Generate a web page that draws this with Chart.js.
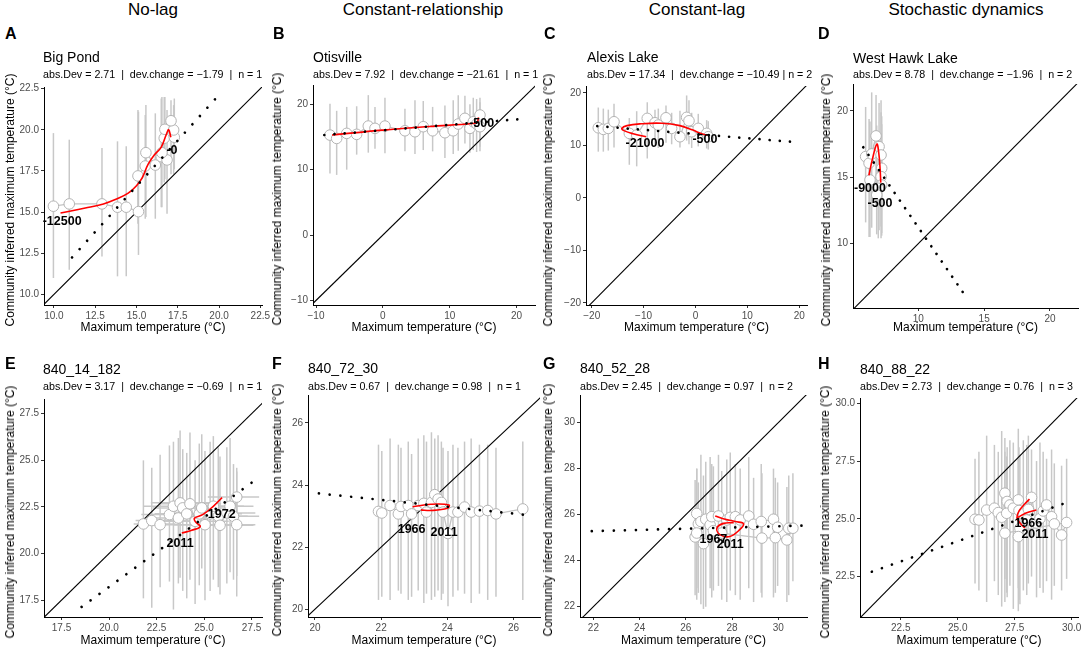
<!DOCTYPE html>
<html><head><meta charset="utf-8">
<script src="https://cdn.jsdelivr.net/npm/chart.js@4.4.0/dist/chart.umd.min.js"></script>
<style>
html,body{margin:0;padding:0;background:#fff;}
body{width:1084px;height:651px;position:relative;overflow:hidden;font-family:"Liberation Sans",Arial,Helvetica,sans-serif;}
.t{position:absolute;white-space:pre;line-height:1;color:#000;}
canvas{position:absolute;}
</style></head><body>
<script>
// ---------- DATA ----------
// points: [x, y, yLow, yHigh, (xLow, xHigh)]
// Panel A - Big Pond
const A_xRange = [9.4, 22.6], A_yRange = [9.36, 22.6];
const A_ticks = [10, 12.5, 15, 17.5, 20, 22.5];
const A_pts = [[9.97,15.36,11.0,19.8],[10.93,15.5,11.5,19.4],[12.91,15.5,12.3,18.9],[13.85,15.3,11.1,19.3],[14.38,15.3,11.1,19.0],[15.12,15.03,12.4,21.1],[15.09,17.2,14.3,21.2],[15.53,17.8,14.6,20.9],[15.57,18.61,14.7,21.5],[16.14,17.86,14.6,21.0],[16.5,18.37,15.3,21.9],[16.85,18.17,14.9,21.2],[16.54,18.61,15.3,22.0],[16.68,19.49,16.8,22.0],[17.29,19.55,17.6,21.9],[16.72,20.03,17.0,22.0],[17.25,19.99,17.3,21.5],[17.09,20.55,17.3,21.8]];
const A_red = [[[10.4,14.95],[11.9,15.25],[13.0,15.5],[13.8,15.8],[14.5,16.15],[15.0,16.6],[15.35,17.1],[15.7,17.9],[16.1,18.5],[16.5,18.95],[16.8,19.7],[16.95,20.0],[17.08,19.55]]];
const A_trend = [[11.1,12.25],[19.75,21.85]];
const A_labels = [["-12500",10.5,14.4],["-0",17.15,18.75]];

// Panel B - Otisville
const B_xRange = [-10.45, 22.75], B_yRange = [-10.7, 22.95];
const B_ticks = [-10, 0, 10, 20];
const B_pts = [[-7.91,15.29,9.4,20.1],[-6.91,14.78,9.2,19.0],[-5.41,15.55,10.0,19.6],[-3.92,15.4,12.3,19.7],[-2.18,16.67,12.6,21.4],[-1.18,16.32,13.2,19.6],[0.31,16.67,12.5,21.0],[3.3,15.95,12.8,19.3],[4.8,15.8,12.4,20.6],[6.04,16.57,13.0,20.5],[7.44,15.95,12.8,19.6],[9.28,15.65,11.8,19.8],[10.52,15.95,12.4,20.6],[11.27,16.98,12.9,21.4],[12.27,17.85,14.0,21.3],[13.02,16.32,12.6,20.0],[13.52,17.33,13.0,21.0],[14.02,16.98,12.7,20.8],[14.52,18.36,13.5,21.0],[14.52,16.57,12.8,20.3]];
const B_red = [[[-7.6,15.3],[0,16.05],[7,16.6],[13.4,17.05],[14.1,17.25],[14.3,18.0]]];
const B_trend = [[-8.76,15.3],[20.1,17.7]];
const B_labels = [["-500",14.77,17.08]];

// Panel C - Alexis Lake
const C_xRange = [-21.1, 21.5], C_yRange = [-20.4, 21.3];
const C_ticks = [-20, -10, 0, 10, 20];
const C_pts = [[-18.73,13.35,8.8,17.2],[-17.76,13.04,8.8,17.0],[-16.8,13.23,9.0,16.8],[-15.7,14.49,9.6,17.9],[-12.75,12.28,6.3,15.2],[-11.33,11.96,6.0,16.5],[-9.29,15.13,7.5,18.2],[-7.8,14.3,9.8,16.8],[-7.16,13.87,9.5,17.0],[-5.68,15.25,10.5,17.6],[-4.59,13.23,10.2,16.2],[-2.99,11.64,9.6,16.6],[-1.7,15.33,10.9,19.5],[-1.25,14.68,10.2,18.6],[-0.73,12.59,9.5,16.2],[0.54,13.23,9.8,16.0],[2.16,12.28,9.4,14.8],[2.47,11.64,9.2,14.6]];
const C_red = [[[-9.5,11.65],[-12,12.2],[-13.8,12.8],[-14.2,13.2],[-13.2,13.75],[-10.5,14.1],[-6.5,14.2],[-3,13.75],[-0.5,12.9],[1.2,12.2],[2.3,11.9]]];
const C_trend = [[-18.92,13.67],[18.21,10.7]];
const C_labels = [["-21000",-9.73,10.38],["-500",1.83,11.02]];

// Panel D - West Hawk Lake
const D_xRange = [5.04, 22.13], D_yRange = [5.15, 22.03];
const D_ticks = [10, 15, 20];
const D_pts = [[6.0,16.56,11.6,20.3],[6.26,16.06,10.5,19.4],[6.46,16.76,11.2,21.4],[6.79,18.12,12.8,21.2],[7.02,17.31,11.0,20.6],[7.17,16.68,10.4,19.9],[7.22,15.68,10.8,19.6],[7.17,15.05,11.3,20.8],[6.33,14.8,10.5,19.2],[7.22,14.42,10.6,19.0],[6.96,14.17,10.4,18.4],[6.84,13.67,10.7,18.9]];
const D_red = [[[6.25,15.15],[6.5,16.3],[6.85,17.5],[7.0,16.8],[7.1,15.6],[7.15,14.6]]];
const D_trend = [[5.82,17.26],[13.37,6.36]];
const D_labels = [["-9000",6.33,14.12],["-500",7.09,12.99]];

// Panel E - 840_14_182
const E_xRange = [16.58, 28.05], E_yRange = [16.6, 28.29];
const E_ticks = [17.5, 20, 22.5, 25, 27.5];
const E_pts = [[21.81,21.59,17.6,25.0,21.3,23.5],[22.25,21.77,17.1,24.6,21.4,24.2],[22.69,21.55,18.2,25.3,21.6,24.4],[23.18,22.09,18.5,25.8,21.7,24.9],[23.39,22.54,17.0,26.0,21.8,25.3],[23.65,21.91,18.4,26.2,22.0,25.4],[23.74,22.72,18.7,26.6,22.2,25.5],[23.88,22.45,18.0,25.6,22.3,25.6],[24.09,22.13,17.6,25.4,22.4,25.9],[24.26,22.67,18.6,26.5,22.6,25.9],[24.53,21.73,17.3,25.0,22.9,26.3],[24.75,22.13,18.3,25.9,23.1,26.5],[24.88,22.45,19.2,26.4,23.3,26.4],[25.05,21.55,17.5,25.5,23.4,26.8],[25.32,22.13,18.0,26.0,23.7,27.0],[25.49,22.54,18.6,26.3,23.9,27.1],[25.75,22.0,18.2,25.7,24.2,27.3],[25.84,21.52,17.8,25.2,24.2,27.6],[26.2,22.18,18.4,25.7,24.6,27.7],[26.37,22.54,19.0,26.2,24.8,27.6],[26.55,22.0,18.6,24.8,25.0,27.9],[26.72,23.03,18.8,24.4,25.2,27.9],[26.72,21.55,17.7,24.6,25.1,27.7]];
const E_red = [[[23.83,21.1],[24.35,21.25],[24.8,21.45],[24.55,21.7],[24.5,21.9],[24.95,22.1],[25.5,22.55],[25.95,23.0]]];
const E_trend = [[18.56,17.14],[27.5,23.8]];
const E_labels = [["1972",25.93,22.1],["2011",23.74,20.56]];

// Panel F - 840_72_30
const F_xRange = [19.79, 26.8], F_yRange = [19.75, 26.9];
const F_ticks = [20, 22, 24, 26];
const F_pts = [[21.92,23.15,20.3,25.3],[22.02,23.10,20.4,25.1],[22.27,23.34,20.3,25.5],[22.52,23.07,20.6,25.3],[22.6,23.31,20.5,25.2],[22.82,23.34,20.3,25.4],[22.92,23.07,20.4,25.0],[23.12,23.34,20.6,25.5],[23.29,23.41,20.2,25.6],[23.37,23.13,20.5,25.4],[23.52,23.44,20.3,25.7],[23.62,23.69,20.4,25.5],[23.72,23.55,20.6,25.6],[23.82,23.44,20.3,25.4],[23.87,23.13,20.5,25.2],[24.02,22.44,20.1,25.1],[24.17,23.13,20.4,25.3],[24.32,23.13,20.6,25.2],[24.52,23.29,20.5,25.4],[24.72,23.13,20.2,25.5],[24.97,23.16,20.5,25.3],[25.22,23.18,20.3,25.3],[25.47,23.07,20.4,25.2],[26.28,23.23,20.3,25.4]];
const F_red = [[[22.95,23.3],[23.5,23.38],[24.05,23.36],[24.0,23.25],[23.5,23.18],[23.2,23.2]]];
const F_trend = [[20.12,23.73],[26.28,23.05]];
const F_labels = [["1966",22.92,22.58],["2011",23.9,22.48]];

// Panel G - 840_52_28
const G_xRange = [21.42, 31.24], G_yRange = [21.55, 31.2];
const G_ticks = [22, 24, 26, 28, 30];
const G_pts = [[26.47,26.05,22.3,28.0],[26.54,25.6,22.6,27.4],[26.65,25.7,22.1,28.6],[26.86,25.8,22.0,28.3],[27.05,25.55,22.8,28.5],[27.12,25.91,22.4,28.2],[27.41,25.94,22.9,28.6],[27.77,25.77,22.2,28.4],[27.92,25.88,22.7,28.7],[28.14,25.91,22.5,28.2],[28.35,25.77,22.3,28.0],[28.72,25.94,22.8,28.5],[28.93,25.58,22.2,27.6],[29.26,25.7,22.6,28.2],[29.79,25.8,22.4,28.0],[29.97,25.45,22.9,27.4],[30.45,25.41,22.5,27.7],[30.63,25.41,23.1,27.8],[30.37,24.9,22.2,27.2],[29.87,25.0,22.6,27.6],[29.29,24.98,22.4,27.8],[27.55,25.2,22.3,27.9],[27.19,25.3,22.7,28.1],[26.76,24.74,21.9,27.7],[26.4,25.03,22.5,27.5],[26.47,25.2,22.8,28.0]];
const G_red = [[[27.27,25.94],[27.7,25.8],[28.14,25.7],[28.5,25.6],[28.29,25.31],[27.9,25.05],[27.49,25.12],[27.34,25.41],[27.63,25.62],[28.07,25.65]]];
const G_trend = [[21.93,25.28],[31.0,25.52]];
const G_labels = [["1967",27.19,24.9],["2011",27.92,24.68]];

// Panel H - 840_88_22
const H_xRange = [20.71, 30.28], H_yRange = [20.75, 30.23];
const H_ticks = [22.5, 25, 27.5, 30];
const H_pts = [[25.76,24.98,22.2,27.6],[25.93,24.95,21.9,27.9],[26.27,25.38,21.4,28.6],[26.61,25.46,22.3,28.2],[26.78,25.27,21.7,27.9],[26.93,25.07,21.2,28.8],[27.07,26.11,22.4,28.5],[27.17,25.75,21.6,28.1],[27.29,25.6,22.1,28.4],[27.15,25.24,21.8,27.7],[27.44,25.46,21.1,28.3],[27.66,25.82,22.0,28.9],[27.69,25.36,21.5,28.1],[27.88,25.21,21.9,28.4],[27.73,24.59,21.3,27.8],[27.66,24.23,21.0,27.6],[28.03,24.95,21.7,28.2],[28.1,25.41,22.2,28.6],[28.24,25.93,22.5,28.0],[28.46,24.82,21.6,27.5],[28.61,25.01,22.0,28.3],[28.75,25.34,21.8,27.9],[28.9,25.6,22.3,27.6],[29.12,25.09,21.5,28.0],[29.24,24.78,22.1,27.4],[29.56,24.3,21.9,27.3],[29.78,24.84,22.4,27.6],[27.07,24.38,21.4,27.9]];
const H_red = [[[28.15,25.85],[27.95,25.65],[27.7,25.35],[27.6,25.05],[27.75,24.8],[27.95,24.6]],[[27.62,25.05],[28.0,25.25],[28.45,25.38]]];
const H_trend = [[21.23,22.71],[29.6,25.64]];
const H_labels = [["1966",28.1,24.8],["2011",28.39,24.3]];

const columnTitles = ["No-lag", "Constant-relationship", "Constant-lag", "Stochastic dynamics"];
const siteNames = ["Big Pond","Otisville","Alexis Lake","West Hawk Lake","840_14_182","840_72_30","840_52_28","840_88_22"];
const statLines = [
 "abs.Dev = 2.71  |  dev.change = \u22121.79  |  n = 1",
 "abs.Dev = 7.92  |  dev.change = \u221221.61  |  n = 1",
 "abs.Dev = 17.34  |  dev.change = \u221210.49 | n = 2",
 "abs.Dev = 8.78  |  dev.change = \u22121.96  |  n = 2",
 "abs.Dev = 3.17  |  dev.change = \u22120.69  |  n = 1",
 "abs.Dev = 0.67  |  dev.change = 0.98  |  n = 1",
 "abs.Dev = 2.45  |  dev.change = 0.97  |  n = 2",
 "abs.Dev = 2.73  |  dev.change = 0.76  |  n = 3"];
const xTitle = "Maximum temperature (\u00B0C)";
const yTitle = "Community inferred maximum temperature (\u00B0C)";

// ---------- LAYOUT ----------
const FONT = '"Liberation Sans", Arial, Helvetica, sans-serif';
const PLOT = {A:[44,87,262,305],B:[313,85,535,305],C:[586,86,807,305],D:[853,84,1078,308],
              E:[44,399,262,617],F:[308,395,540,617],G:[580,395,807,617],H:[860,398,1078,617]};
const LETTER = {A:[5,40],B:[273,40],C:[544,40],D:[818,40],E:[5,370],F:[272,370],G:[543,370],H:[818,370]};
const TITLEPOS = {A:[43,62],B:[313,62],C:[587,62],D:[853,63],E:[43,374],F:[308,373],G:[580,373],H:[860,374]};
const STATBASE = {A:78,B:78,C:78,D:78,E:390,F:390,G:390,H:390};
const YTX = {A:10,B:277,C:548,D:826,E:10,F:277,G:548,H:825};
const COLX = [153,423,697,966];
const ML=42, MT=12, MR=20, MB=24, NDOT=20;

function txt(s, x, base, size, o) {
  o = o || {};
  const d = document.createElement('div');
  d.className = 't';
  d.textContent = s;
  d.style.fontSize = size + 'px';
  if (o.bold) d.style.fontWeight = 'bold';
  if (o.rot) {
    d.style.left = x + 'px'; d.style.top = base + 'px';
    d.style.transform = 'translate(-50%,-50%) rotate(-90deg)';
  } else {
    d.style.left = x + 'px';
    d.style.top = (base - 0.8465 * size) + 'px';
    if (o.center) d.style.transform = 'translateX(-50%)';
  }
  document.body.appendChild(d);
}

columnTitles.forEach((t,i)=>txt(t, COLX[i], 15.5, 17, {center:true}));

function panel(id, idx, xr, yr, xt, yt, dec, pts, reds, trend, labels) {
  const r = PLOT[id];
  const w = r[2]-r[0]+ML+MR, h = r[3]-r[1]+MT+MB;
  const cv = document.createElement('canvas');
  cv.width = w; cv.height = h;
  cv.style.left = (r[0]-ML)+'px'; cv.style.top = (r[1]-MT)+'px';
  cv.style.width = w+'px'; cv.style.height = h+'px';
  document.body.appendChild(cv);

  txt(id, LETTER[id][0], LETTER[id][1], 16, {bold:true});
  txt(siteNames[idx], TITLEPOS[id][0], TITLEPOS[id][1], 14);
  txt(statLines[idx], TITLEPOS[id][0], STATBASE[id], 10.7);
  txt(xTitle, (r[0]+r[2])/2, idx<4 ? 331 : 644, 12, {center:true});
  txt(yTitle, YTX[id], (r[1]+r[3])/2 + 4, 12, {rot:true});

  const fmt = v => (v<0?'\u2212':'') + (dec ? Math.abs(v).toFixed(1) : String(Math.abs(v)));
  const lo = Math.min(xr[0],yr[0]), hi = Math.max(xr[1],yr[1]);
  const datasets = [];
  reds.forEach(p => datasets.push({data:p.map(q=>({x:q[0],y:q[1]})), borderColor:'#ff0000', borderWidth:1.6, pointRadius:0, tension:0.4, fill:false}));
  datasets.push({data:pts.map(q=>({x:q[0],y:q[1]})), borderColor:'#c4c4c4', borderWidth:1.3, pointRadius:5.3, pointHoverRadius:5.3,
    pointBackgroundColor:'#ffffff', pointBorderColor:'#b4b4b4', pointBorderWidth:1, tension:0, fill:false});
  datasets.push({data:[{x:lo,y:lo},{x:hi,y:hi}], borderColor:'#000', borderWidth:1.1, pointRadius:0, fill:false});

  const extras = {
    id:'extras',
    beforeDatasetsDraw(chart){
      const {ctx, chartArea:a, scales:{x,y}} = chart;
      ctx.save();
      ctx.beginPath(); ctx.rect(a.left,a.top,a.right-a.left,a.bottom-a.top); ctx.clip();
      ctx.strokeStyle = '#c8c8c8'; ctx.lineWidth = 1.5;
      pts.forEach(q=>{
        const px = x.getPixelForValue(q[0]), py = y.getPixelForValue(q[1]);
        ctx.beginPath(); ctx.moveTo(px, y.getPixelForValue(q[2])); ctx.lineTo(px, y.getPixelForValue(q[3])); ctx.stroke();
        if (q.length > 5) { ctx.beginPath(); ctx.moveTo(x.getPixelForValue(q[4]), py); ctx.lineTo(x.getPixelForValue(q[5]), py); ctx.stroke(); }
      });
      ctx.restore();
    },
    afterDatasetsDraw(chart){
      const {ctx, scales:{x,y}} = chart;
      const x0=x.getPixelForValue(trend[0][0]), y0=y.getPixelForValue(trend[0][1]);
      const x1=x.getPixelForValue(trend[1][0]), y1=y.getPixelForValue(trend[1][1]);
      const len = Math.hypot(x1-x0, y1-y0), gap = len/(NDOT-1);
      ctx.save();
      ctx.setLineDash([0.001, gap-0.001]); ctx.lineCap='round'; ctx.lineWidth=2.7; ctx.strokeStyle='#000';
      ctx.beginPath(); ctx.moveTo(x0,y0); ctx.lineTo(x1+(x1-x0)/len*0.6, y1+(y1-y0)/len*0.6); ctx.stroke();
      ctx.setLineDash([]);
      ctx.font = 'bold 12.5px ' + FONT; ctx.fillStyle='#000'; ctx.textAlign='center'; ctx.textBaseline='middle';
      labels.forEach(l => ctx.fillText(l[0], x.getPixelForValue(l[1]), y.getPixelForValue(l[2])));
      ctx.restore();
    }
  };
  const axis = (range, ticks, isX) => ({
    type:'linear', min:range[0], max:range[1],
    afterBuildTicks: s => { s.ticks = ticks.map(v=>({value:v})); },
    afterFit: s => { if (isX) s.height = MB; else s.width = ML; },
    grid:{display:true, drawOnChartArea:false, drawTicks:true, tickLength:3, color:'#333', lineWidth:1},
    border:{display:true, color:'#000', width:1},
    ticks:{font:{family:FONT, size:10}, color:'#4d4d4d', maxRotation:0, autoSkip:false, padding:2, callback:v=>fmt(v)}
  });
  new Chart(cv, {
    type:'line',
    data:{datasets},
    options:{
      responsive:false, animation:false, devicePixelRatio:1, events:[],
      layout:{padding:{left:0, top:MT, right:MR, bottom:0}},
      plugins:{legend:{display:false}, tooltip:{enabled:false}},
      scales:{x:axis(xr, xt, true), y:axis(yr, yt, false)}
    },
    plugins:[extras]
  });
}

panel('A',0,A_xRange,A_yRange,A_ticks,A_ticks,true,A_pts,A_red,A_trend,A_labels);
panel('B',1,B_xRange,B_yRange,B_ticks,B_ticks,false,B_pts,B_red,B_trend,B_labels);
panel('C',2,C_xRange,C_yRange,C_ticks,C_ticks,false,C_pts,C_red,C_trend,C_labels);
panel('D',3,D_xRange,D_yRange,D_ticks,D_ticks,false,D_pts,D_red,D_trend,D_labels);
panel('E',4,E_xRange,E_yRange,E_ticks,E_ticks,true,E_pts,E_red,E_trend,E_labels);
panel('F',5,F_xRange,F_yRange,F_ticks,F_ticks,false,F_pts,F_red,F_trend,F_labels);
panel('G',6,G_xRange,G_yRange,G_ticks,G_ticks,false,G_pts,G_red,G_trend,G_labels);
panel('H',7,H_xRange,H_yRange,H_ticks,H_ticks,true,H_pts,H_red,H_trend,H_labels);
</script>
</body></html>
